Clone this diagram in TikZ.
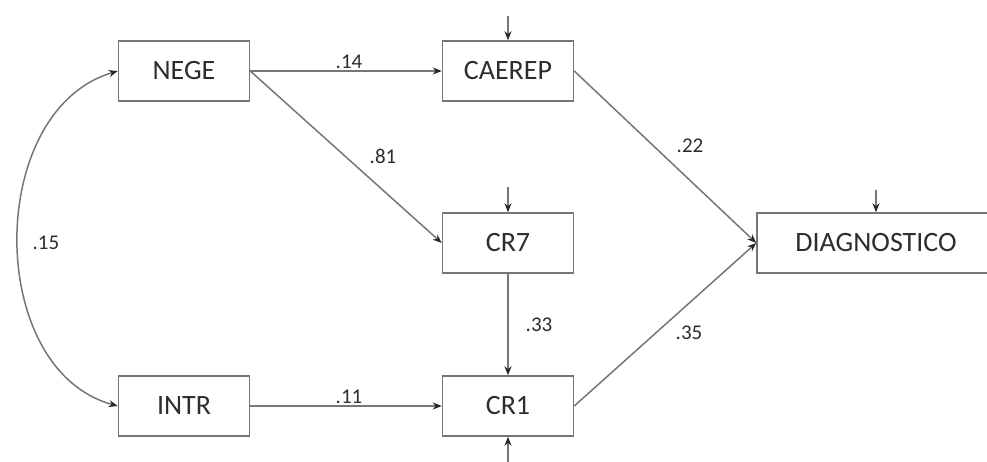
\documentclass[tikz,border=0pt]{standalone}
\usepackage{fontspec}
\setmainfont{Carlito}
\usepackage{tikz}
\usetikzlibrary{shapes,arrows.meta}

\definecolor{linegray}{RGB}{118,118,118}
\definecolor{tipgray}{RGB}{40,40,40}
\definecolor{textgray}{RGB}{45,45,45}
\tikzset{
  var/.style={draw=linegray,line width=1.5pt,minimum width=131pt,minimum height=60pt,
    inner sep=0pt,text=textgray,font=\fontsize{28}{32}\selectfont},
  arr/.style={draw=linegray,line width=1.5pt,-{Stealth[length=9pt,width=7pt,color=tipgray]}},
  coef/.style={text=textgray,font=\fontsize{21}{24}\selectfont,inner sep=0pt}
}

\begin{document}
\begin{tikzpicture}[x=1pt,y=-1pt]
\useasboundingbox (0,0) rectangle (987,462);
\node[var] (NEGE) at (184,71) {NEGE};
\node[var] (INTR) at (184,406) {INTR};
\node[var] (CAEREP) at (508,71) {CAEREP};
\node[var] (CR7) at (508,243) {CR7};
\node[var] (CR1) at (508,406) {CR1};
\node[var,minimum width=238pt] (DIAG) at (876,243) {DIAGNOSTICO};
% residuos
\coordinate (eCAEREP) at (508,16);
\coordinate (eCR7) at (508,187);
\coordinate (eCR1) at (508,462);
\coordinate (eDIAG) at (876,190);
\draw[arr] (eCAEREP) -- (CAEREP);
\draw[arr] (eCR7) -- (CR7);
\draw[arr] (eCR1) -- (CR1);
\draw[arr] (eDIAG) -- (DIAG);
%
\draw[arr] (NEGE) -- (CAEREP);
\draw[arr] (NEGE.east) -- (CR7.west);
\draw[arr] (CAEREP.east) -- (DIAG.west);
\draw[arr] (CR7) -- (CR1);
\draw[arr] (INTR) -- (CR1);
\draw[arr] (CR1.east) -- (DIAG.west);
\draw[arr,{Stealth[length=9pt,width=7pt,color=tipgray]}-{Stealth[length=9pt,width=7pt,color=tipgray]}]
  (NEGE.west) .. controls (-15,110) and (-15,370) .. (INTR.west);
%
\node[coef] (c14) at (349,62) {.14};
\node[coef] (c81) at (383,156) {.81};
\node[coef] (c15) at (46,243) {.15};
\node[coef] (c22) at (690,146) {.22};
\node[coef] (c33) at (539,325) {.33};
\node[coef] (c35) at (689,333) {.35};
\node[coef] (c11) at (349,397) {.11};
\end{tikzpicture}
\end{document}
